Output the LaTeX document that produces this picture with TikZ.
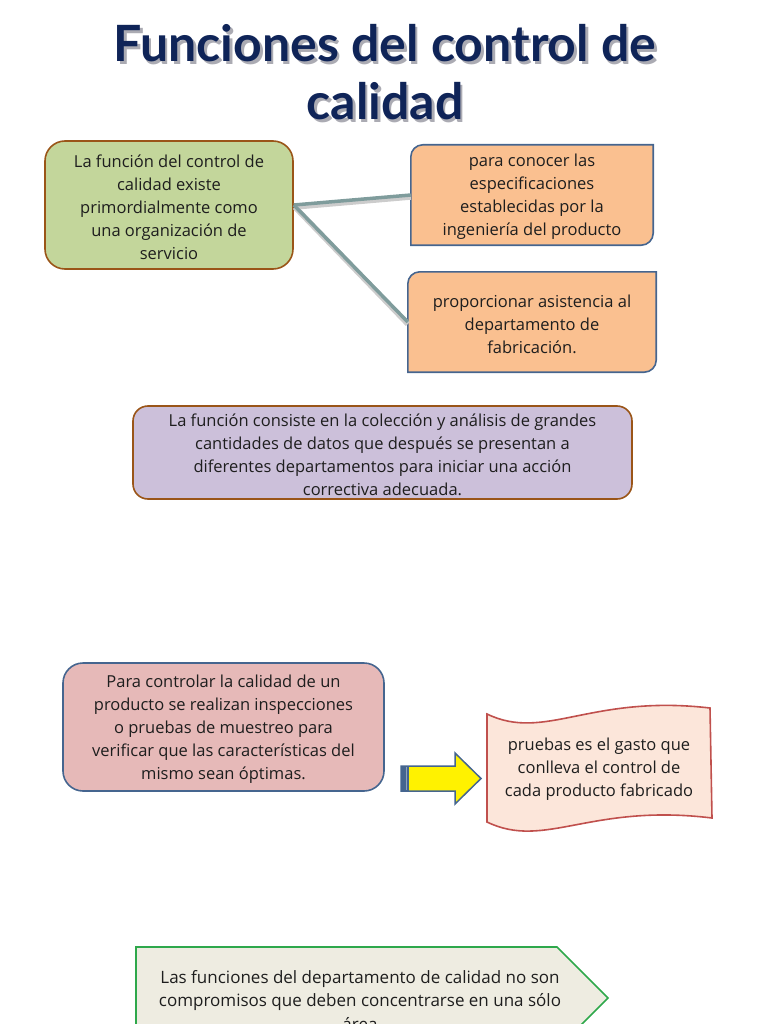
\documentclass[tikz,border=0pt]{standalone}
\usepackage{fontspec}
\setmainfont{Open Sans}
\newfontfamily\titlefont{Lato}
\usetikzlibrary{calc}
\definecolor{titlecol}{HTML}{0F2458}
\definecolor{greenfill}{HTML}{C3D69B}
\definecolor{brownline}{HTML}{9A5518}
\definecolor{orangefill}{HTML}{FAC090}
\definecolor{blueline}{HTML}{45658F}
\definecolor{purplefill}{HTML}{CCC0DA}
\definecolor{pinkfill}{HTML}{E6B9B8}
\definecolor{wavefill}{HTML}{FCE6DA}
\definecolor{redline}{HTML}{C0504D}
\definecolor{pentfill}{HTML}{EEECE1}
\definecolor{greenline}{HTML}{2EA84B}
\definecolor{conncol}{HTML}{7F9C9C}
\definecolor{textcol}{HTML}{1E1E1E}
\definecolor{shadowcol}{HTML}{ABABB3}
\newcommand{\shadowedtext}[1]{\rlap{\hspace{2.5pt}\raisebox{-2.5pt}{\textcolor{shadowcol}{#1}}}\textcolor{titlecol}{#1}}
\tikzset{
  txt/.style={align=center, text=textcol, font=\fontsize{16.5}{23}\selectfont, inner sep=0pt},
  titletxt/.style={font=\titlefont\bfseries\fontsize{50}{58}\selectfont, anchor=base, inner sep=0pt},
  boxbase/.style={rectangle, line width=1.6pt, inner sep=0pt},
  conn/.style={conncol, line width=3.5pt},
  connshadow/.style={black!20, line width=5.5pt},
}
\begin{document}
\begin{tikzpicture}[x=1pt,y=1pt]
\useasboundingbox (0,0) rectangle (768,-1024);
\clip (0,0) rectangle (768,-1024);
% title
\node[titletxt] (t1) at (385,-62) {\shadowedtext{Funciones del control de}};
\node[titletxt] (t2) at (385,-120) {\shadowedtext{calidad}};
% green box
\node[boxbase, draw=brownline, fill=greenfill, rounded corners=20pt, minimum width=248pt, minimum height=128pt] (g) at (169,-205) {};
\node[txt] (gt) at (169,-207) {La función del control de\\calidad existe\\primordialmente como\\una organización de\\servicio};
% orange boxes
\node[rectangle, minimum width=242pt, minimum height=100pt, inner sep=0pt] (o1) at (532,-195) {};
\filldraw[fill=orangefill, draw=blueline, line width=1.6pt]
  (o1.north east) -- ([xshift=12pt]o1.north west) arc[start angle=90,end angle=180,radius=12pt]
  -- (o1.south west) -- ([xshift=-12pt]o1.south east) arc[start angle=270,end angle=360,radius=12pt] -- cycle;
\node[txt] (o1t) at (532,-197) {para conocer las\\especificaciones\\establecidas por la\\ingeniería del producto};
\node[rectangle, minimum width=248pt, minimum height=100pt, inner sep=0pt] (o2) at (532,-322) {};
\filldraw[fill=orangefill, draw=blueline, line width=1.6pt]
  (o2.north east) -- ([xshift=12pt]o2.north west) arc[start angle=90,end angle=180,radius=12pt]
  -- (o2.south west) -- ([xshift=-12pt]o2.south east) arc[start angle=270,end angle=360,radius=12pt] -- cycle;
\node[txt] (o2t) at (532,-324) {proporcionar asistencia al\\departamento de\\fabricación.};
% connectors
\draw[connshadow] ([xshift=1pt,yshift=-2pt]g.east) -- ([yshift=-2pt]o1.west);
\draw[connshadow] ([xshift=1pt,yshift=-2pt]g.east) -- ([yshift=-2pt]o2.west);
\draw[conn] (g.east) -- (o1.west);
\draw[conn] (g.east) -- (o2.west);
% purple box
\node[boxbase, draw=brownline, fill=purplefill, rounded corners=15pt, minimum width=499pt, minimum height=93pt] (p) at (382.5,-452.5) {};
\node[txt] (pt) at (382.5,-455) {La función consiste en la colección y análisis de grandes\\cantidades de datos que después se presentan a\\diferentes departamentos para iniciar una acción\\correctiva adecuada.};
% pink box
\node[boxbase, draw=blueline, fill=pinkfill, rounded corners=20pt, minimum width=321pt, minimum height=128pt] (k) at (223.5,-727) {};
\node[txt] (kt) at (223.5,-729.5) {Para controlar la calidad de un\\producto se realizan inspecciones\\o pruebas de muestreo para\\verificar que las características del\\mismo sean óptimas.};
% yellow arrow
\filldraw[fill=yellow, draw=blueline, line width=1.5pt]
  (401,-766) -- (455,-766) -- (455,-753) -- (481,-778.5) -- (455,-804) -- (455,-791) -- (401,-791) -- cycle;
\fill[blueline] (401,-766) rectangle (409,-791);
\draw[blueline!60, line width=1pt] (406,-767) -- (406,-790);
% wave shape
\coordinate (wtl) at (487,-714);
\coordinate (wtr) at (710,-708);
\coordinate (wbr) at (712,-818);
\coordinate (wbl) at (487,-822);
\filldraw[fill=wavefill, draw=redline, line width=1.6pt]
  (wtl) .. controls (545,-742) and (590,-694) .. (wtr) -- (wbr)
  .. controls (590,-803) and (545,-850) .. (wbl) -- cycle;
\node[txt] (wt) at (599,-769.5) {pruebas es el gasto que\\conlleva el control de\\cada producto fabricado};
% pentagon
\coordinate (pa) at (136,-947);
\coordinate (pb) at (557,-947);
\coordinate (pc) at (608,-998);
\coordinate (pd) at (557,-1049);
\coordinate (pe) at (136,-1049);
\filldraw[fill=pentfill, draw=greenline, line width=1.6pt] (pa) -- (pb) -- (pc) -- (pd) -- (pe) -- cycle;
\node[txt, font=\fontsize{17}{23.5}\selectfont] (nt) at (360,-1000.5) {Las funciones del departamento de calidad no son\\compromisos que deben concentrarse en una sólo\\área};
\end{tikzpicture}
\end{document}
